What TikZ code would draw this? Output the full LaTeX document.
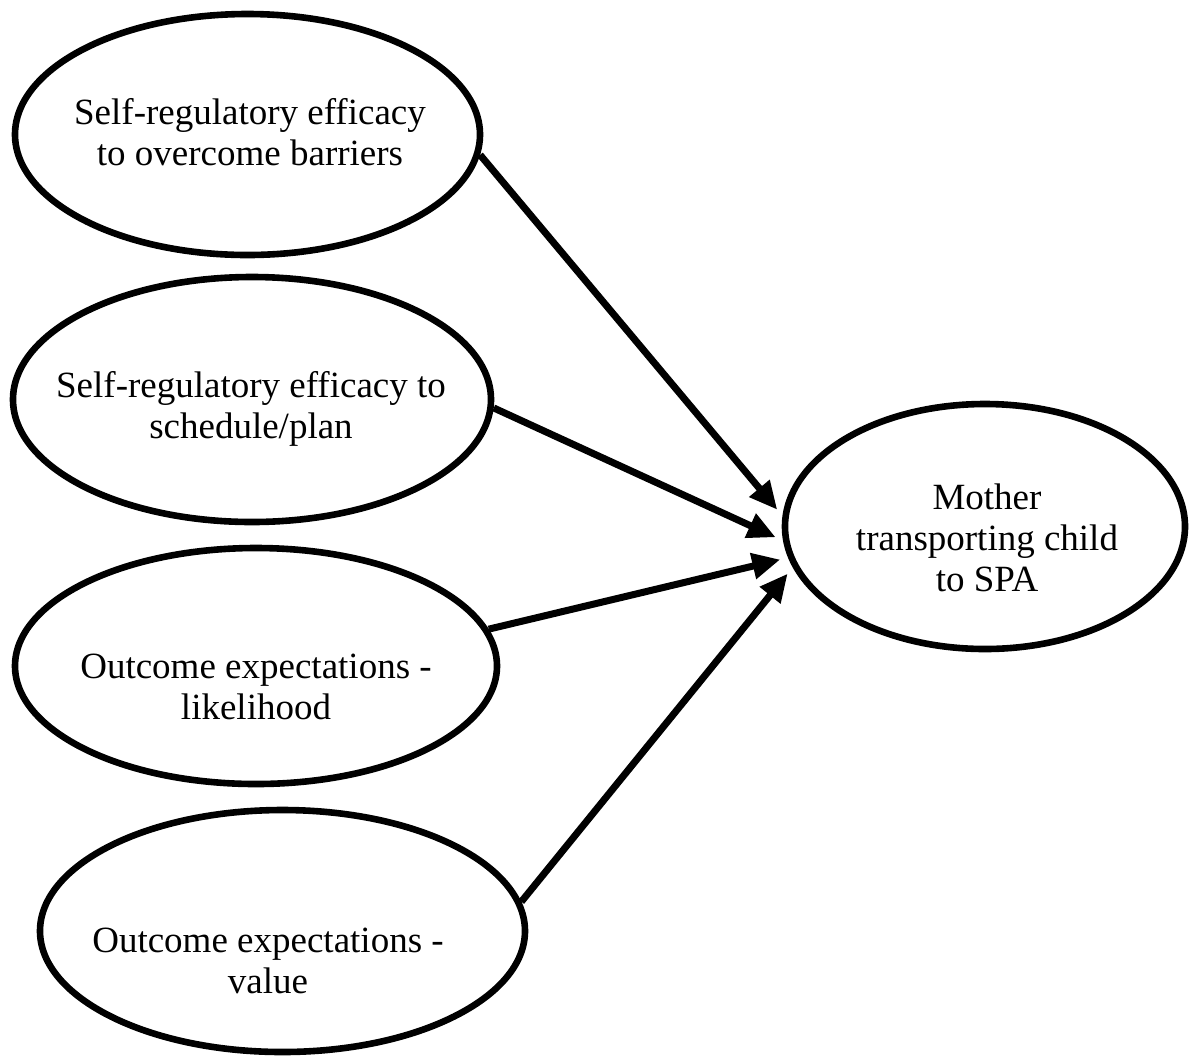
\documentclass[tikz,border=0pt]{standalone}
\usepackage{fontspec}
\setmainfont{Liberation Serif}
\usepackage{tikz}
\usetikzlibrary{shapes.geometric, arrows.meta, positioning}
\tikzset{
  ovalnode/.style={ellipse,draw=black,line width=3.3pt,inner sep=0pt},
  txtnode/.style={align=center,font=\fontsize{18.5}{20.5}\selectfont,inner sep=0pt},
  arr/.style={-{Triangle[length=14pt,width=12.5pt]},line width=3.5pt,shorten >=4pt}
}

\begin{document}
\begin{tikzpicture}[x=0.5pt,y=-0.5pt]
  \useasboundingbox (0,0) rectangle (1189,1057);

  %% Predictors
  \node[ovalnode,minimum width=232.5pt,minimum height=120.5pt] (barr) at (247.5,134.5) {};
  \node[ovalnode,minimum width=239pt,minimum height=122.5pt] (plan) at (252,399.5) {};
  \node[ovalnode,minimum width=241pt,minimum height=118pt] (likely) at (256,666) {};
  \node[ovalnode,minimum width=242.5pt,minimum height=121pt] (value) at (282.5,931) {};

  %% Outcome
  \node[ovalnode,minimum width=200pt,minimum height=122.5pt] (spa) at (985,526.5) {};

  %% Labels
  \node[txtnode] (barrtxt) at (250,132) {Self-regulatory efficacy\\to overcome barriers};
  \node[txtnode] (plantxt) at (251,409) {Self-regulatory efficacy to\\schedule/plan};
  \node[txtnode] (likelytxt) at (256,687) {Outcome expectations -\\likelihood};
  \node[txtnode] (valuetxt) at (268,961) {Outcome expectations -\\value};
  \node[txtnode] (spatxt) at (987,538) {Mother\\transporting child\\to SPA};

  %% Paths
  \draw[arr] (barr.-5) -- (spa.177);
  \draw[arr] (plan.-2) -- (spa.184);
  \draw[arr] (likely.9) -- (spa.189);
  \draw[arr] (value.7.5) -- (spa.192);
\end{tikzpicture}
\end{document}
